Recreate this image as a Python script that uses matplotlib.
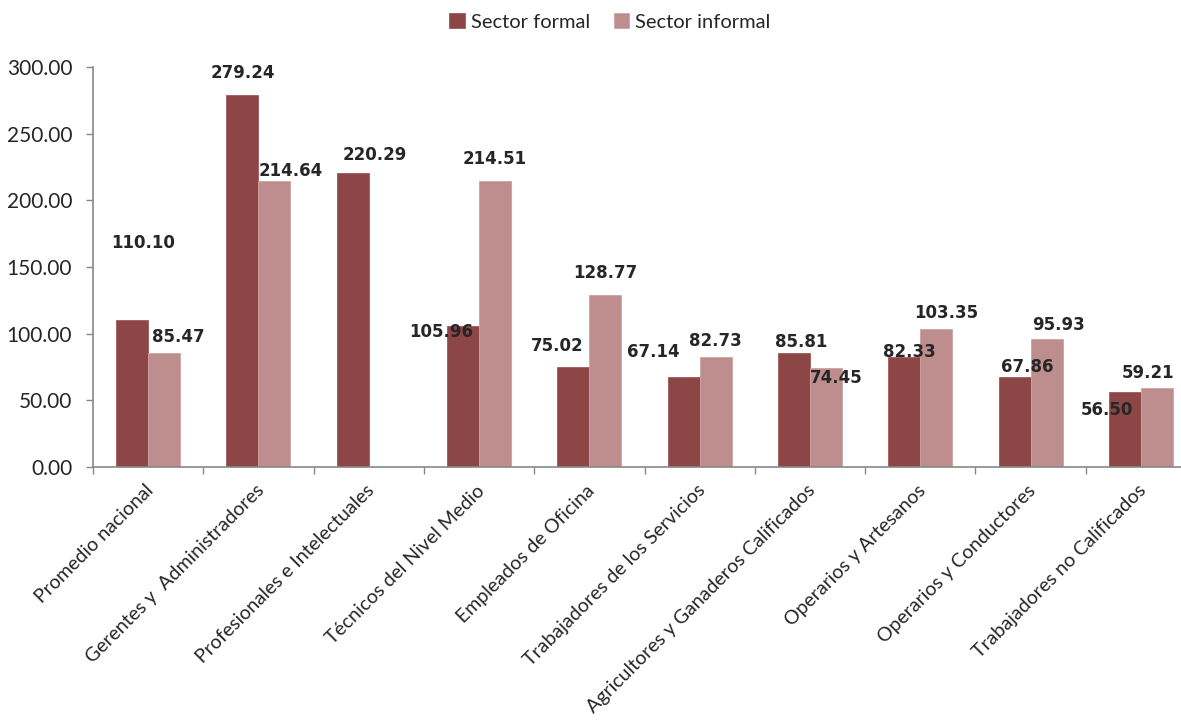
import numpy as np
import matplotlib.pyplot as plt

categorias = ['Promedio nacional', 'Gerentes y  Administradores', 'Profesionales e Intelectuales',
              'Técnicos del Nivel Medio', 'Empleados de Oficina', 'Trabajadores de los Servicios',
              'Agricultores y Ganaderos Calificados', 'Operarios y Artesanos',
              'Operarios y Conductores', 'Trabajadores no Calificados']
formal = [110.10, 279.24, 220.29, 105.96, 75.02, 67.14, 85.81, 82.33, 67.86, 56.50]
informal = [85.47, 214.64, np.nan, 214.51, 128.77, 82.73, 74.45, 103.35, 95.93, 59.21]

# label centre offsets (pixels) from the top-centre of each bar
off_formal = [(11, 77), (0, 22), (22, 18), (-22, -6), (-16, 21), (-30, 25), (7, 11), (5, 5), (13, 10), (-18, -18)]
off_informal = [(14, 16), (16, 10), None, (0, 22), (0, 22), (0, 16), (10, -10), (10, 16), (12, 14), (-9, 15)]

c_formal = '#8C4646'
c_informal = '#BE8D8D'

plt.rcParams['font.family'] = ['Lato', 'DejaVu Sans']

fig = plt.figure(figsize=(11.81, 7.23), dpi=100)
# axes run past the right edge of the figure
ax = fig.add_axes([93 / 1181, 256 / 723, 1103 / 1181, 400 / 723])

x = np.arange(len(categorias))
w = 0.29
b1 = ax.bar(x - w / 2, formal, w, color=c_formal, edgecolor='#A05A5A', linewidth=0.6, label='Sector formal')
b2 = ax.bar(x + w / 2, informal, w, color=c_informal, edgecolor='#CFA3A3', linewidth=0.6, label='Sector informal')

for bars, vals, offs in [(b1, formal, off_formal), (b2, informal, off_informal)]:
    for rect, v, off in zip(bars, vals, offs):
        if off is None or np.isnan(v):
            continue
        ax.annotate(f'{v:.2f}', (rect.get_x() + rect.get_width() / 2, v), xytext=off,
                    textcoords='offset pixels', ha='center', va='center',
                    fontsize=12, fontweight='bold', family='DejaVu Sans', color='#262626',
                    annotation_clip=False)

ax.set_xlim(-0.5, len(categorias) - 0.5)
ax.set_ylim(0, 300)
ax.set_yticks(np.arange(0, 301, 50))
ax.set_yticklabels([f'{t:.2f}' for t in np.arange(0, 301, 50)], fontsize=15, color='#262626')

ax.set_xticks(np.arange(len(categorias) + 1) - 0.5)
ax.set_xticklabels([])
ax.tick_params(axis='both', direction='out', length=5, color='#888888', width=1)
ax.tick_params(axis='y', pad=10)

for i, name in enumerate(categorias):
    ax.annotate(name, (i, 0), xytext=(2, -15), textcoords='offset points',
                rotation=45, rotation_mode='anchor', ha='right', va='center',
                fontsize=14, color='#262626', annotation_clip=False)

for s in ['top', 'right']:
    ax.spines[s].set_visible(False)
for s in ['left', 'bottom']:
    ax.spines[s].set_color('#888888')
    ax.spines[s].set_linewidth(1.2)

fig.legend(handles=[b1, b2], loc='center', bbox_to_anchor=(610 / 1181, 1 - 22 / 723), ncol=2,
           frameon=False, fontsize=14.5, handlelength=0.75, handleheight=0.75,
           handletextpad=0.3, columnspacing=1.2, labelcolor='#262626')

fig.savefig('out.png', dpi=100)
